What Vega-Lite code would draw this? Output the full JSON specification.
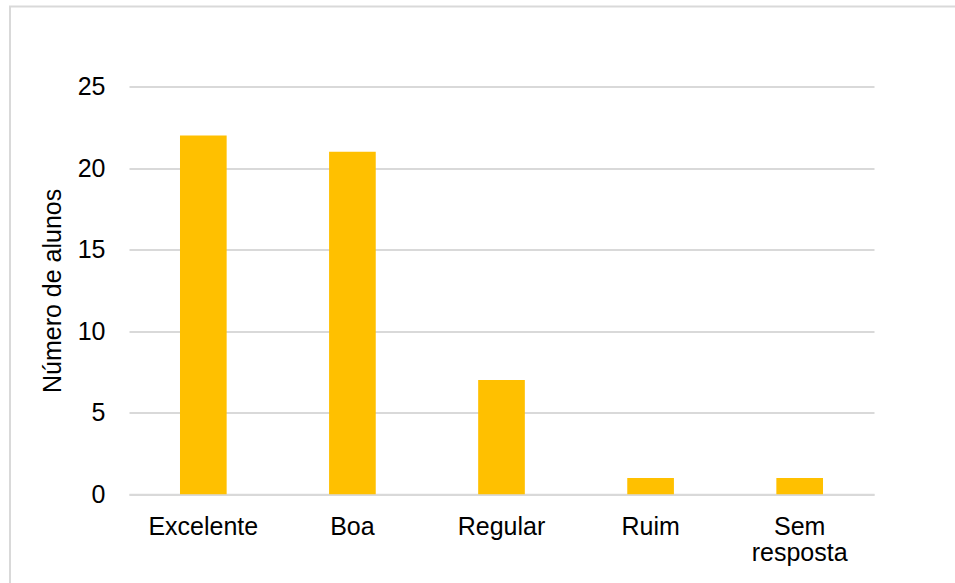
{
  "$schema": "https://vega.github.io/schema/vega-lite/v6.json",
  "autosize": {"type": "none"},
  "padding": {"left": 10, "top": 6.5, "right": 0, "bottom": 0},
  "width": 960,
  "height": 590,
  "background": "#ffffff",
  "config": {
    "view": {"stroke": "#d9d9d9", "strokeWidth": 2, "fill": "#ffffff"},
    "font": "Liberation Sans",
    "axis": {
      "labelFont": "Liberation Sans",
      "titleFont": "Liberation Sans",
      "labelColor": "#000000",
      "titleColor": "#000000",
      "labelFontSize": 25,
      "titleFontSize": 25,
      "titleFontWeight": "normal"
    }
  },
  "data": {
    "values": [
      {"avaliacao": "Excelente", "alunos": 22},
      {"avaliacao": "Boa", "alunos": 21},
      {"avaliacao": "Regular", "alunos": 7},
      {"avaliacao": "Ruim", "alunos": 1},
      {"avaliacao": "Sem resposta", "alunos": 1}
    ]
  },
  "mark": {"type": "bar", "color": "#FFC000"},
  "encoding": {
    "x": {
      "field": "avaliacao",
      "type": "nominal",
      "sort": null,
      "scale": {"range": [119, 864], "paddingInner": 0.687, "paddingOuter": 0.342},
      "axis": {
        "title": null,
        "orient": "bottom",
        "offset": -102.2,
        "labelAngle": 0,
        "ticks": false,
        "tickSize": 0,
        "labelPadding": 40,
        "labelBaseline": "alphabetic",
        "labelLineHeight": 26,
        "domain": true,
        "domainColor": "#d9d9d9",
        "domainWidth": 2,
        "grid": false,
        "labelExpr": "datum.value == 'Sem resposta' ? ['Sem', 'resposta'] : datum.label"
      }
    },
    "y": {
      "field": "alunos",
      "type": "quantitative",
      "scale": {"domain": [0, 25], "nice": false, "range": [487.8, 80]},
      "axis": {
        "title": "Número de alunos",
        "orient": "left",
        "offset": -119,
        "values": [0, 5, 10, 15, 20, 25],
        "ticks": false,
        "tickSize": 0,
        "labelPadding": 24,
        "titlePadding": 12,
        "domain": false,
        "grid": true,
        "gridColor": "#d9d9d9",
        "gridWidth": 2
      }
    }
  }
}
